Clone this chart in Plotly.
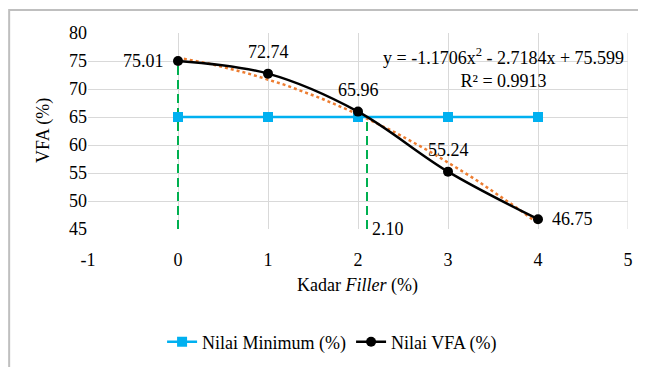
import numpy as np
import plotly.graph_objects as go

kadar = [0, 1, 2, 3, 4]
vfa = [75.01, 72.74, 65.96, 55.24, 46.75]
vfa_labels = ["75.01", "72.74", "65.96", "55.24", "46.75"]
nilai_min = [65, 65, 65, 65, 65]
trend_coef = [-1.1706, -2.7184, 75.599]
kadar_opt = 2.10
x_ticks = [-1, 0, 1, 2, 3, 4, 5]
x_ticktext = ["-1", "0", "1", "2", "3", "4", "5"]
y_ticks = [45, 50, 55, 60, 65, 70, 75, 80]

FONT = "Liberation Serif, Times New Roman, serif"
fig = go.Figure()

xs = np.linspace(0, 4, 60)
fig.add_trace(go.Scatter(x=xs, y=np.polyval(trend_coef, xs), mode="lines",
                         line=dict(color="#ED7D31", width=2.5, dash="dot"),
                         showlegend=False, hoverinfo="skip"))
fig.add_trace(go.Scatter(x=[0, 0], y=[45, vfa[0]], mode="lines",
                         line=dict(color="#00B050", width=2, dash="9px,5px"), showlegend=False))
fig.add_trace(go.Scatter(x=[kadar_opt, kadar_opt], y=[45, nilai_min[0]], mode="lines",
                         line=dict(color="#00B050", width=2, dash="9px,5px"), showlegend=False))
fig.add_trace(go.Scatter(x=kadar, y=nilai_min, mode="lines+markers", name="Nilai Minimum (%)",
                         line=dict(color="#00B0F0", width=2.5),
                         marker=dict(symbol="square", size=10, color="#00B0F0")))
fig.add_trace(go.Scatter(x=kadar, y=vfa, mode="lines+markers", name="Nilai VFA (%)",
                         line=dict(color="black", width=2.5, shape="spline"),
                         marker=dict(symbol="circle", size=10, color="black")))

lab_font = dict(family=FONT, size=18, color="black")
for i in range(len(kadar)):
    if i == 0:
        fig.add_annotation(x=kadar[i], y=vfa[i], text=vfa_labels[i], showarrow=False,
                           xanchor="right", yanchor="middle", xshift=-12, font=lab_font)
    elif i == len(kadar) - 1:
        fig.add_annotation(x=kadar[i], y=vfa[i], text=vfa_labels[i], showarrow=False,
                           xanchor="left", yanchor="middle", xshift=12, font=lab_font)
    else:
        fig.add_annotation(x=kadar[i], y=vfa[i], text=vfa_labels[i], showarrow=False,
                           xanchor="center", yanchor="bottom", yshift=10, font=lab_font)
fig.add_annotation(x=kadar_opt, y=45, text=f"{kadar_opt:.2f}", showarrow=False,
                   xanchor="left", yanchor="middle", xshift=3, font=lab_font)
fig.add_annotation(x=3.62, y=73.8, text="y = -1.1706x<sup>2</sup> - 2.7184x + 75.599<br>R² = 0.9913",
                   showarrow=False, xanchor="center", yanchor="middle", align="center",
                   font=dict(family=FONT, size=18, color="black"))

# axis titles
fig.add_annotation(xref="paper", yref="paper", x=(357 - 88) / 540, y=(229 - 285) / 196,
                   text="Kadar <i>Filler</i> (%)", showarrow=False, xanchor="center", yanchor="middle",
                   font=lab_font)
fig.add_annotation(xref="paper", yref="paper", x=(43 - 88) / 540, y=0.5, textangle=-90,
                   text="VFA (%)", showarrow=False, xanchor="center", yanchor="middle",
                   font=lab_font)

fig.add_shape(type="rect", xref="paper", yref="paper", x0=-0.146, x1=1.1, y0=-0.9, y1=1.117,
              line=dict(color="#BFBFBF", width=2))
fig.add_shape(type="line", xref="x", yref="y", x0=5, x1=5, y0=45, y1=80,
              line=dict(color="#D9D9D9", width=1))

# page body adds an 8px offset; margins compensate so the plot area lands where the reference has it
fig.update_layout(
    width=646, height=367,
    margin=dict(l=80, r=26, t=25, b=146, autoexpand=False),
    paper_bgcolor="white", plot_bgcolor="white",
    font=dict(family=FONT, size=18, color="black"),
    showlegend=True,
    legend=dict(orientation="h", x=0.452, xanchor="center", y=-0.577, yanchor="middle",
                font=dict(family=FONT, size=18), tracegroupgap=0),
    xaxis=dict(range=[-1, 5], tickvals=x_ticks, ticktext=x_ticktext, showgrid=True,
               gridcolor="#D9D9D9", gridwidth=1, zeroline=False, showline=False,
               ticks="outside", ticklen=14, tickcolor="rgba(0,0,0,0)", automargin=False,
               tickfont=dict(family=FONT, size=18)),
    yaxis=dict(range=[45, 80], tickvals=y_ticks, showgrid=True, gridcolor="#D9D9D9", gridwidth=1,
               zeroline=False, showline=False, ticks="", automargin=False,
               tickfont=dict(family=FONT, size=18)),
)

fig.write_html("out.html")
